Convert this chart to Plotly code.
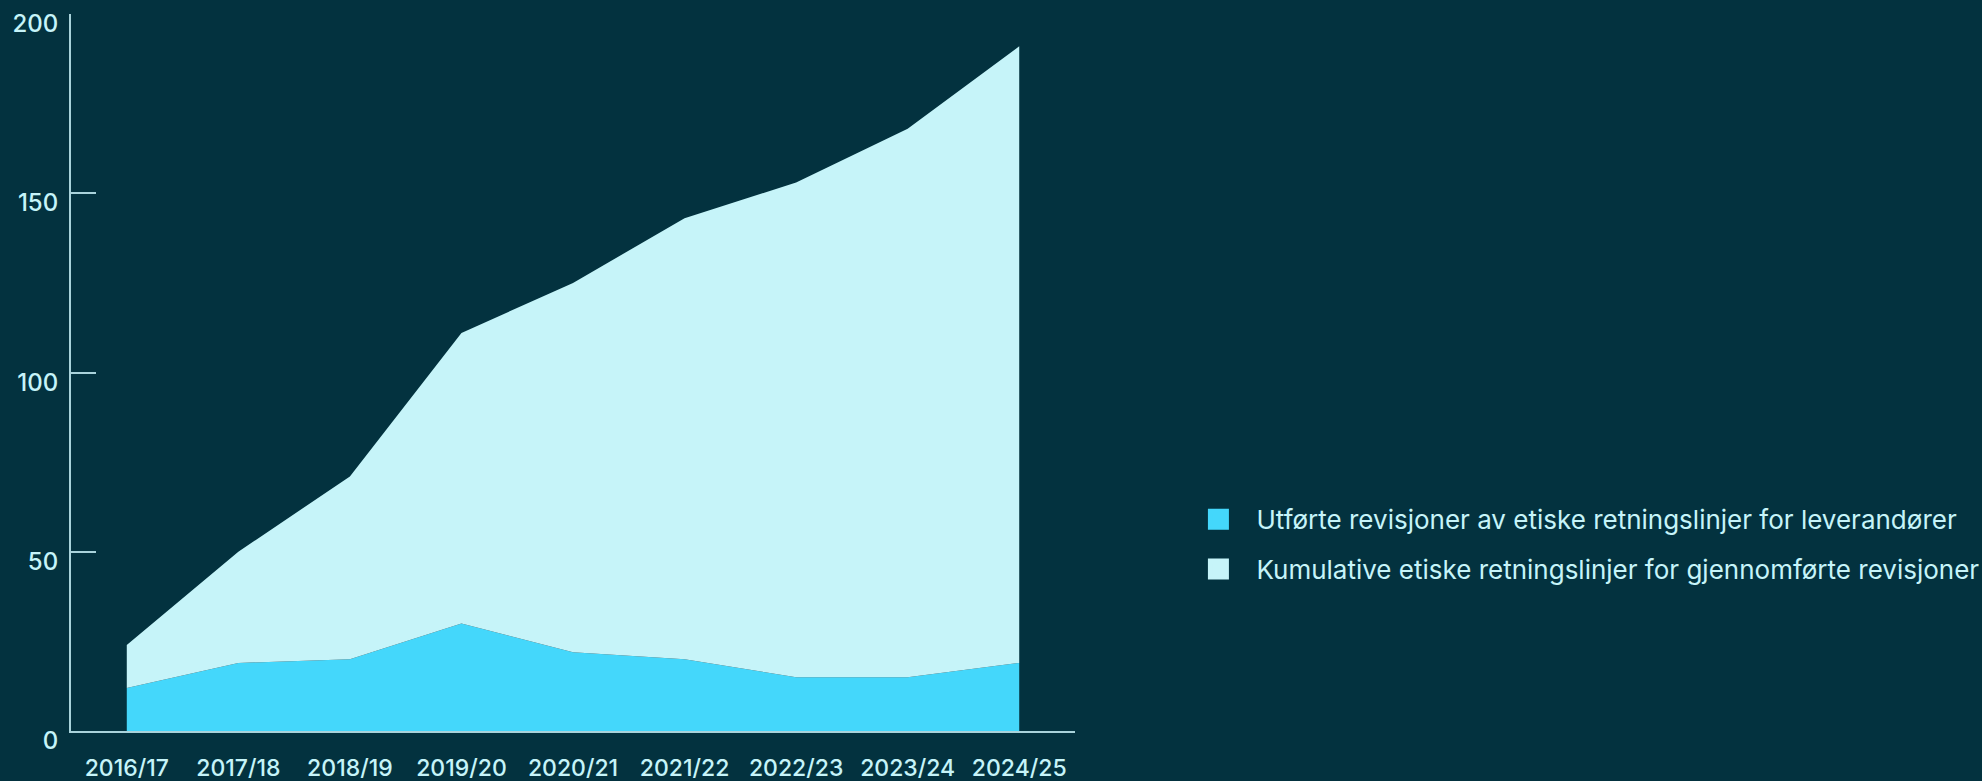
import plotly.graph_objects as go

years = ["2016/17", "2017/18", "2018/19", "2019/20", "2020/21",
         "2021/22", "2022/23", "2023/24", "2024/25"]
utforte = [12, 19, 20, 30, 22, 20, 15, 15, 19]
kumulative = [12, 31, 51, 81, 103, 123, 138, 153, 172]
y_ticks = [0, 50, 100, 150, 200]

name_utf = "Utførte revisjoner av etiske retningslinjer for leverandører"
name_kum = "Kumulative etiske retningslinjer for gjennomførte revisjoner"

BG = "#03323f"
CYAN = "#44d7fb"
LIGHT = "#c6f4f9"
TEXT = "#c6f4f9"
AXIS = "#a9d3db"
FONT = "Inter"

fig = go.Figure()
fig.add_trace(go.Scatter(x=years, y=utforte, stackgroup="one", mode="none",
                         fillcolor=CYAN, name=name_utf, showlegend=False,
                         hoverinfo="x+y"))
fig.add_trace(go.Scatter(x=years, y=kumulative, stackgroup="one", mode="none",
                         fillcolor=LIGHT, name=name_kum, showlegend=False,
                         hoverinfo="x+y"))
# legend entries
for nm, col, grp in [(name_utf, CYAN, "a"), (name_kum, LIGHT, "b")]:
    fig.add_trace(go.Scatter(x=[None], y=[None], mode="markers", name=nm,
                             legendgroup=grp, xaxis="x2",
                             marker=dict(symbol="square", size=16, color=col,
                                         line=dict(color=col, width=5))))

fig.update_layout(
    width=1982, height=781,
    paper_bgcolor=BG, plot_bgcolor=BG,
    margin=dict(l=71, r=907, t=14, b=50, autoexpand=False),
    font=dict(family=FONT, color=TEXT, size=22),
    xaxis=dict(type="category", range=[-0.5, 8.5], showgrid=False,
               zeroline=False, showline=True, linecolor=AXIS, linewidth=2,
               ticks="", tickfont=dict(size=23, color=TEXT, weight=500),
               ticklabelstandoff=15, automargin=False),
    xaxis2=dict(overlaying="x", anchor="y", range=[-0.5, 8.5],
                showgrid=False, zeroline=False, showline=False,
                tickvals=[8.5], ticks="inside", ticklen=17, tickwidth=2,
                tickcolor=AXIS, showticklabels=False, side="bottom",
                automargin=False),
    yaxis=dict(range=[0, 200], tickvals=y_ticks, showgrid=False,
               zeroline=False, showline=True, linecolor=AXIS, linewidth=2,
               ticks="inside", ticklen=25, tickwidth=2, tickcolor=AXIS,
               ticklabelposition="outside bottom", ticklabelstandoff=6,
               ticklabelshift=-8,
               tickfont=dict(size=24, color=TEXT, weight=500),
               automargin=False),
    legend=dict(x=1.105, y=0.328, xanchor="left", yanchor="top",
                font=dict(size=26, color=TEXT, family=FONT),
                itemwidth=66, tracegroupgap=13, bgcolor="rgba(0,0,0,0)",
                traceorder="grouped"),
    showlegend=True,
)

fig.write_html("out.html", config={"displayModeBar": False},
               post_script="document.body.style.margin='0';document.body.style.overflow='hidden';")
